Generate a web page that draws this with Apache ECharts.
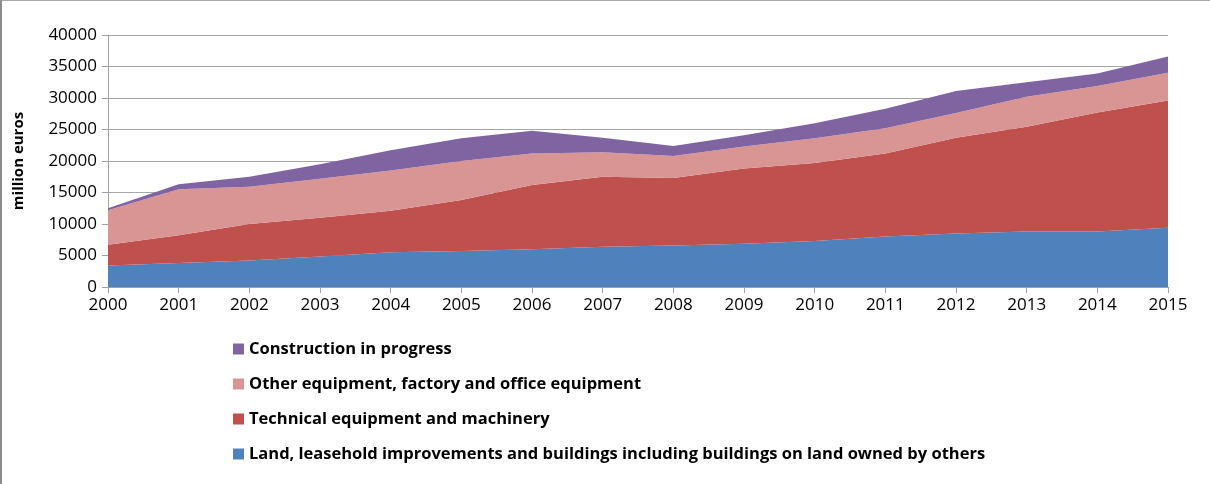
<!DOCTYPE html>
<html>
<head>
<meta charset="utf-8">
<script src="https://cdn.jsdelivr.net/npm/echarts@6/dist/echarts.min.js"></script>
<style>
  html, body { margin: 0; padding: 0; background: #fff; }
  #frame {
    width: 1208px;
    height: 483px;
    border-left: 2px solid #8c8c8c;
    border-top: 1px solid #a6a6a6;
  }
  #chart { width: 1208px; height: 483px; }
</style>
</head>
<body>
<div id="frame"><div id="chart"></div></div>
<script>
const years = ['2000', '2001', '2002', '2003', '2004', '2005', '2006', '2007',
  '2008', '2009', '2010', '2011', '2012', '2013', '2014', '2015']

// million euros, stacked bottom to top
const land = [3400, 3800, 4200, 4850, 5500, 5700, 6000, 6400, 6600, 6850, 7300, 8000, 8500, 8800, 8800, 9400]
const technical = [3300, 4400, 5800, 6150, 6600, 8100, 10200, 11100, 10700, 11950, 12400, 13200, 15200, 16650, 18900, 20200]
const otherEquip = [5500, 7300, 5900, 6200, 6400, 6200, 5000, 3900, 3500, 3500, 3900, 4000, 3900, 4750, 4200, 4400]
const construction = [300, 800, 1600, 2300, 3200, 3600, 3600, 2300, 1600, 1800, 2400, 3100, 3500, 2300, 2000, 2600]

const yTicks = [0, 5000, 10000, 15000, 20000, 25000, 30000, 35000, 40000]

const names = {
  land: 'Land, leasehold improvements and buildings including buildings on land owned by others',
  technical: 'Technical equipment and machinery',
  other: 'Other equipment, factory and office equipment',
  construction: 'Construction in progress'
}

const fontFamily = 'Open Sans, Liberation Sans, sans-serif'

const areaSeries = (name, data, color) => ({
  name: name,
  type: 'line',
  stack: 'total',
  data: data,
  symbol: 'none',
  lineStyle: { width: 0 },
  itemStyle: { color: color },
  areaStyle: { color: color, opacity: 1 }
})

const chart = echarts.init(document.getElementById('chart'))

chart.setOption({
  animation: false,
  grid: {
    left: 106,
    right: 42,
    top: 34,
    bottom: 197
  },
  legend: {
    orient: 'vertical',
    left: 226,
    top: 332,
    itemGap: 13,
    itemWidth: 11,
    itemHeight: 11,
    icon: 'rect',
    data: [names.construction, names.other, names.technical, names.land],
    textStyle: {
      fontFamily: fontFamily,
      fontSize: 16.5,
      lineHeight: 22,
      fontWeight: 'bold',
      color: '#000'
    }
  },
  xAxis: {
    type: 'category',
    data: years,
    boundaryGap: false,
    axisLine: { lineStyle: { color: '#a0a0a0' } },
    axisTick: { show: true, length: 6, lineStyle: { color: '#a0a0a0' } },
    axisLabel: {
      fontFamily: fontFamily,
      fontSize: 17,
      color: '#000',
      margin: 10
    },
    splitLine: { show: false }
  },
  yAxis: {
    type: 'value',
    min: yTicks[0],
    max: yTicks[yTicks.length - 1],
    interval: 5000,
    name: 'million euros',
    nameLocation: 'middle',
    nameGap: 82,
    nameRotate: 90,
    nameTextStyle: {
      fontFamily: fontFamily,
      fontSize: 15,
      fontWeight: 'bold',
      color: '#000'
    },
    axisLine: { show: true, lineStyle: { color: '#a0a0a0' } },
    axisTick: { show: true, length: 6, lineStyle: { color: '#a0a0a0' } },
    axisLabel: {
      fontFamily: fontFamily,
      fontSize: 17,
      color: '#000',
      margin: 11,
      formatter: (v) => String(v)
    },
    splitLine: { lineStyle: { color: '#a6a6a6' } }
  },
  series: [
    areaSeries(names.land, land, '#4f81bd'),
    areaSeries(names.technical, technical, '#c0504d'),
    areaSeries(names.other, otherEquip, '#d99594'),
    areaSeries(names.construction, construction, '#8064a2')
  ]
})
</script>
</body>
</html>
